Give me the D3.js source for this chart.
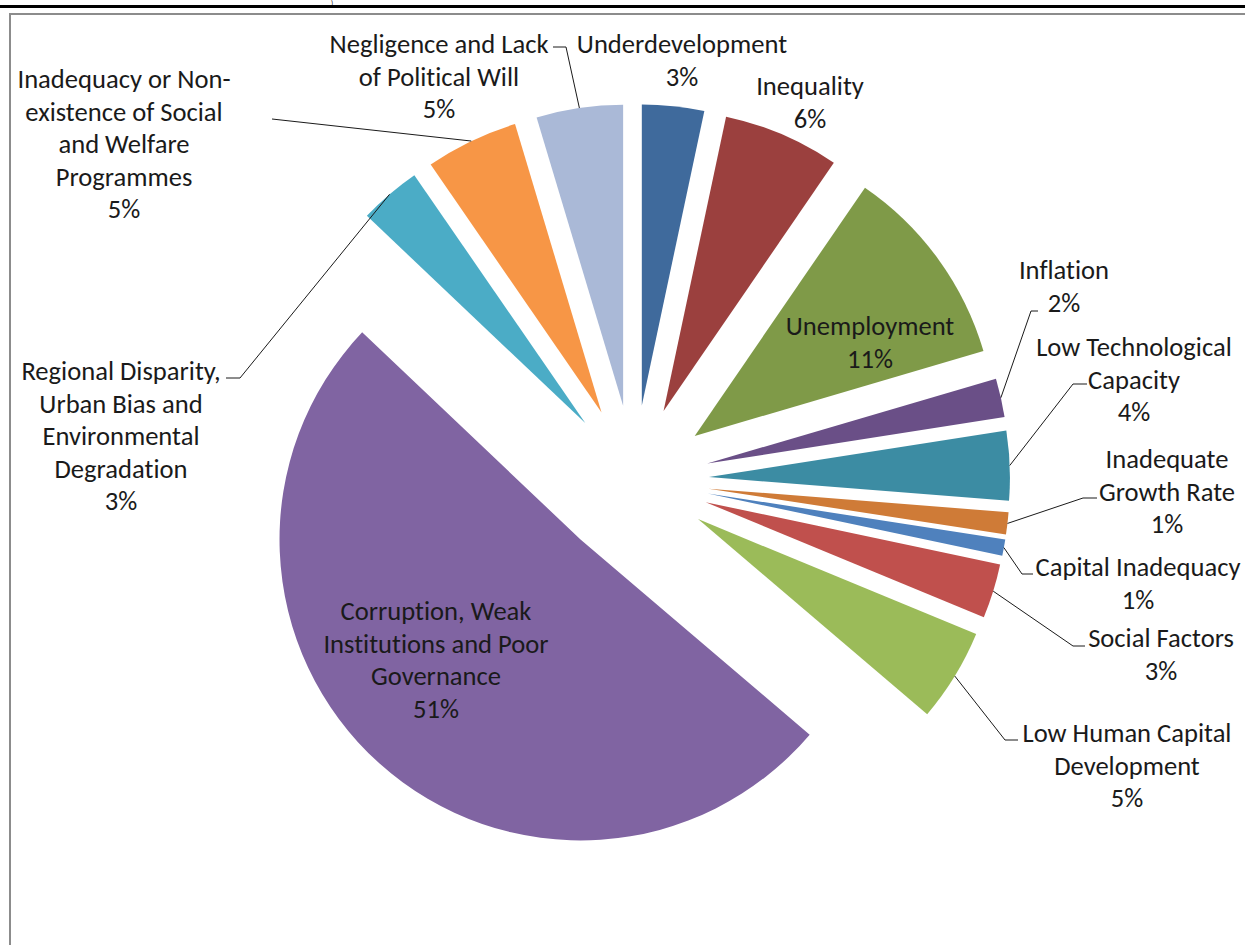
<!DOCTYPE html>
<html>
<head>
<meta charset="utf-8">
<script src="https://cdn.jsdelivr.net/npm/d3@7"></script>
<style>
  html, body { margin: 0; padding: 0; background: #fff; }
  svg { display: block; }
  text { font-variant-ligatures: none; font-feature-settings: "liga" 0; }
</style>
</head>
<body>
<div id="chart"></div>
<script>
// ---- data ----
const categories = [
    "Underdevelopment",
    "Inequality",
    "Unemployment",
    "Inflation",
    "Low Technological Capacity",
    "Inadequate Growth Rate",
    "Capital Inadequacy",
    "Social Factors",
    "Low Human Capital Development",
    "Corruption, Weak Institutions and Poor Governance",
    "Regional Disparity, Urban Bias and Environmental Degradation",
    "Inadequacy or Non-existence of Social and Welfare Programmes",
    "Negligence and Lack of Political Will"
];
const shares = [3.33, 6.24, 10.88, 2.08, 3.72, 1.19, 0.88, 2.92, 4.99, 50.86, 3.31, 4.97, 4.64];

// how each category name is wrapped in its data label
const labelLines = [
    ["Underdevelopment"],
    ["Inequality"],
    ["Unemployment"],
    ["Inflation"],
    ["Low Technological", "Capacity"],
    ["Inadequate", "Growth Rate"],
    ["Capital Inadequacy"],
    ["Social Factors"],
    ["Low Human Capital", "Development"],
    ["Corruption, Weak", "Institutions and Poor", "Governance"],
    ["Regional Disparity,", "Urban Bias and", "Environmental", "Degradation"],
    ["Inadequacy or Non-", "existence of Social", "and Welfare", "Programmes"],
    ["Negligence and Lack", "of Political Will"]
];

const colors = ["#3f6a9c", "#9b403e", "#7f9a48", "#6a4f87", "#3c8ca3", "#cf7b37",
                "#4f81bd", "#c0504d", "#9bbb59", "#8064a2", "#4bacc6", "#f79646", "#aab9d7"];

// ---- layout ----
const width = 1245, height = 945;
const cx = 634, cy = 480, radius = 301;
const explode = [75, 75, 75, 75, 75, 75, 75, 75, 75, 80, 75, 75, 75];
const lineGap = 32.5;
const FONT = "Calibri, Carlito, Lato, sans-serif";

// label anchor (centre x, first line y) and leader-line start points
const labelPos = [
    { x: 682, y: 44, leader: null },
    { x: 810, y: 86, leader: null },
    { x: 870, y: 326, leader: null },
    { x: 1064, y: 270, leader: [[1038, 311], [1031, 311]] },
    { x: 1134, y: 347, leader: [[1087, 384], [1073, 384]] },
    { x: 1167, y: 459, leader: [[1097, 498], [1083, 498]] },
    { x: 1138, y: 567, leader: [[1033, 574], [1022, 574]] },
    { x: 1161, y: 638, leader: [[1085, 646], [1073, 646]] },
    { x: 1127, y: 733, leader: [[1018, 740], [1005, 740]] },
    { x: 436, y: 611, leader: null },
    { x: 121, y: 371, leader: [[226, 378], [240, 378]] },
    { x: 124, y: 79, leader: [[272, 119]] },
    { x: 439, y: 44, leader: [[553, 47], [566, 47]] }
];

const svg = d3.select("#chart")
    .append("svg")
    .attr("width", width)
    .attr("height", height);

// page rule and chart frame
svg.append("line")
    .attr("x1", 0).attr("x2", width)
    .attr("y1", 6.5).attr("y2", 6.5)
    .attr("stroke", "#000")
    .attr("stroke-width", 3);

svg.append("text")
    .attr("x", 331).attr("y", 6)
    .style("font-family", FONT)
    .style("font-size", "7px")
    .text(")");

svg.append("rect")
    .attr("x", 10).attr("y", 14)
    .attr("width", width).attr("height", height)
    .attr("fill", "none")
    .attr("stroke", "#8c8c8c")
    .attr("stroke-width", 2);

// pie
const pie = d3.pie().sort(null).value(d => d);
const arcs = pie(shares);
const arc = d3.arc().innerRadius(0).outerRadius(radius);
const unit = a => [Math.sin(a), -Math.cos(a)];

const slices = arcs.map((a, i) => {
    const mid = (a.startAngle + a.endAngle) / 2;
    const [ux, uy] = unit(mid);
    return { a, i, mid, ox: cx + ux * explode[i], oy: cy + uy * explode[i] };
});

svg.append("g")
    .selectAll("path")
    .data(slices)
    .enter()
    .append("path")
    .attr("d", d => arc(d.a))
    .attr("transform", d => `translate(${d.ox},${d.oy})`)
    .attr("fill", d => colors[d.i]);

// leader lines: from label to the middle of the slice's outer arc
const line = d3.line();
slices.forEach(s => {
    const lp = labelPos[s.i];
    if (!lp.leader) return;
    const [ux, uy] = unit(s.mid);
    const end = [s.ox + ux * radius, s.oy + uy * radius];
    svg.append("path")
        .attr("d", line(lp.leader.concat([end])))
        .attr("fill", "none")
        .attr("stroke", "#1a1a1a")
        .attr("stroke-width", 1);
});

// size the label font so text widths match the original
const probe = svg.append("text")
    .style("font-family", FONT)
    .style("font-size", "100px")
    .text("Capital Inadequacy");
const fontSize = Math.min(27, 100 * 205 / probe.node().getComputedTextLength());
probe.remove();

const total = d3.sum(shares);
const pct = d3.format(".0%");

slices.forEach(s => {
    const lp = labelPos[s.i];
    const lines = labelLines[s.i].concat([pct(shares[s.i] / total)]);
    const t = svg.append("text")
        .attr("text-anchor", "middle")
        .style("font-family", FONT)
        .style("font-size", fontSize + "px")
        .attr("fill", "#1a1a1a");
    lines.forEach((txt, k) => {
        t.append("tspan")
            .attr("x", lp.x)
            .attr("y", lp.y + k * lineGap)
            .attr("dominant-baseline", "central")
            .text(txt);
    });
});
</script>
</body>
</html>
